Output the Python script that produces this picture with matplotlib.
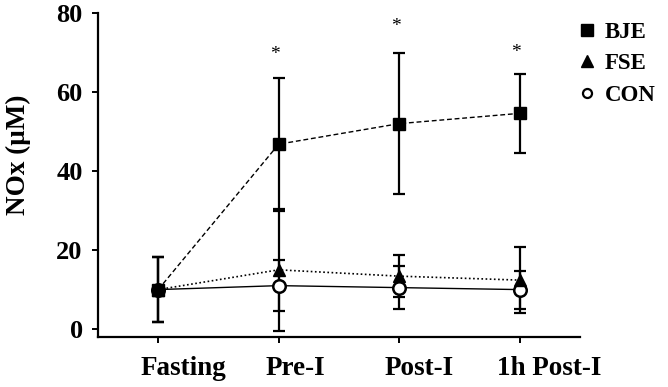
import matplotlib
matplotlib.use("Agg")
import matplotlib.pyplot as plt
from matplotlib.lines import Line2D
from matplotlib.transforms import ScaledTranslation, blended_transform_factory

categories = ["Fasting", "Pre-I", "Post-I", "1h Post-I"]
bje_mean = [10.0, 46.8, 52.0, 54.6]
bje_err = [8.3, 16.8, 17.8, 10.0]
fse_mean = [10.0, 15.0, 13.4, 12.4]
fse_err = [8.3, 15.5, 5.3, 8.4]
con_mean = [10.0, 11.0, 10.5, 10.0]
con_err = [8.3, 6.5, 5.4, 4.8]
star_y = [None, 69.5, 76.5, 70.0]
yticks = [0, 20, 40, 60, 80]

FONT = ['Liberation Serif', 'DejaVu Serif']
plt.rcParams['font.family'] = FONT
plt.rcParams['font.weight'] = 'bold'

fig = plt.figure(figsize=(6.68, 3.87), dpi=100)
ax = fig.add_axes([0.1467, 0.1292, 0.868 - 0.1467, 0.9664 - 0.1292])

x = list(range(len(categories)))
ekw = dict(ecolor='black', elinewidth=1.6, capsize=4.5, capthick=1.6)

ax.errorbar(x, con_mean, yerr=con_err, fmt='none', zorder=2, **ekw)
ax.errorbar(x, fse_mean, yerr=fse_err, fmt='none', zorder=2, **ekw)
ax.errorbar(x, bje_mean, yerr=bje_err, fmt='none', zorder=2, **ekw)

ax.plot(x, con_mean, color='black', lw=1.0, ls='-', zorder=3)
ax.plot(x, fse_mean, color='black', lw=1.2, ls=(0, (1, 1.5)), zorder=3)
ax.plot(x, bje_mean, color='black', lw=1.0, ls=(0, (3.5, 2)), zorder=3)

ax.plot(x, con_mean, ls='none', marker='o', ms=9, mfc='white', mec='black', mew=1.8, zorder=4)
ax.plot(x, fse_mean, ls='none', marker='^', ms=9, color='black', zorder=5)
ax.plot(x, bje_mean, ls='none', marker='s', ms=9, color='black', zorder=6)

for xi, sy in zip(x, star_y):
    if sy is not None:
        ax.text(xi - 0.03, sy, '*', ha='center', va='center', fontsize=14, fontweight='normal')

ax.set_xlim(-0.5, 3.5)
ax.set_ylim(-2, 80)
ax.set_xticks(x)
ax.set_xticklabels([])
label_dx = [25, 17, 20, 30]
btrans = blended_transform_factory(ax.transData, ax.transAxes)
for xi, name, dx in zip(x, categories, label_dx):
    ax.text(xi, 0, name, ha='center', va='top', fontsize=19.5, fontweight='bold',
            transform=btrans + ScaledTranslation(dx / 100, -0.19, fig.dpi_scale_trans),
            clip_on=False)
ax.set_yticks(yticks)
ax.set_yticklabels([str(v) for v in yticks], fontsize=19, fontweight='bold')
fig.text(18 / 668, 1 - 155 / 387, 'NOx (μM)', rotation=90, ha='center', va='center',
         fontsize=19.5, fontweight='bold')
for s in ['top', 'right']:
    ax.spines[s].set_visible(False)
for s in ['left', 'bottom']:
    ax.spines[s].set_linewidth(1.6)
ax.tick_params(axis='both', width=1.4, length=4, direction='out')
ax.tick_params(axis='y', pad=7)

handles = [
    Line2D([], [], ls='none', marker='s', ms=8, color='black'),
    Line2D([], [], ls='none', marker='^', ms=8, color='black'),
    Line2D([], [], ls='none', marker='o', ms=6.5, mfc='white', mec='black', mew=1.6),
]
fig.legend(handles, ['BJE', 'FSE', 'CON'], loc='upper left', bbox_to_anchor=(0.845, 0.985),
           frameon=False, handlelength=0.6, handletextpad=0.45, labelspacing=0.45,
           borderpad=0.2, prop={'family': FONT, 'weight': 'bold', 'size': 16.5})

fig.savefig('out.png', dpi=100)
